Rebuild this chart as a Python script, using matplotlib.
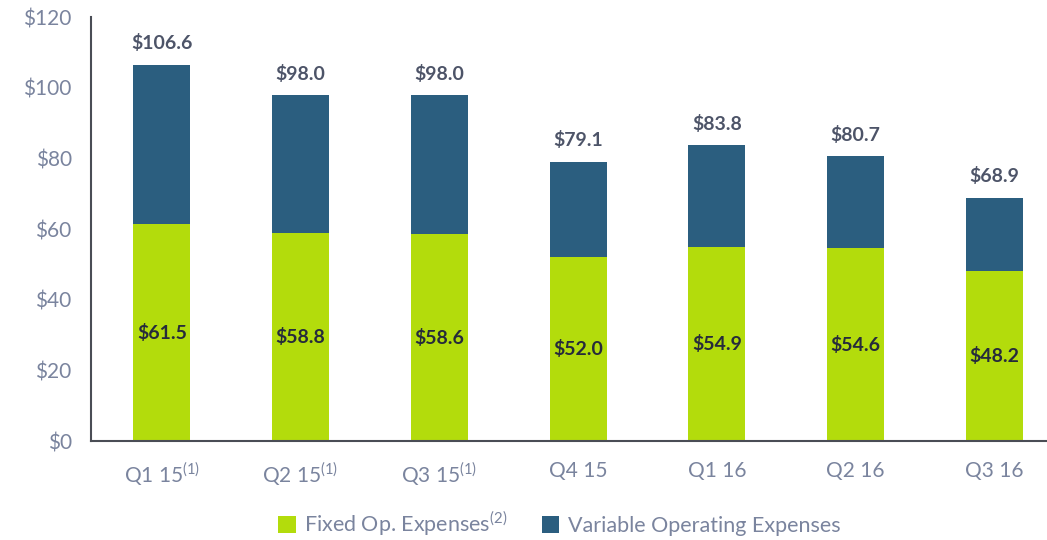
import matplotlib.pyplot as plt
import numpy as np

quarters = ["Q1 15", "Q2 15", "Q3 15", "Q4 15", "Q1 16", "Q2 16", "Q3 16"]
notes = ["(1)", "(1)", "(1)", "", "", "", ""]
fixed = [61.5, 58.8, 58.6, 52.0, 54.9, 54.6, 48.2]
totals = [106.6, 98.0, 98.0, 79.1, 83.8, 80.7, 68.9]
variable = [t - f for t, f in zip(totals, fixed)]

green = "#b3dc0c"
navy = "#2b5e7f"
tick_color = "#7a849e"
total_color = "#4d5468"
fixed_color = "#262b3b"

plt.rcParams["font.family"] = ["Lato", "DejaVu Sans"]
plt.rcParams["mathtext.fontset"] = "custom"
plt.rcParams["mathtext.rm"] = "Lato"

fig = plt.figure(figsize=(10.47, 5.4), dpi=100)
ax = fig.add_axes([0.087, 0.183, 0.913, 0.785])

x = np.arange(len(quarters))
w = 0.41
ax.bar(x, fixed, w, color=green, label=r"Fixed Op. Expenses$^{\mathrm{(2)}}$", zorder=2)
ax.bar(x, variable, w, bottom=fixed, color=navy, label="Variable Operating Expenses", zorder=2)

for xi, f, t in zip(x, fixed, totals):
    ax.text(xi, t + 3.5, f"${t:.1f}", ha="center", va="bottom", fontsize=14,
            fontweight="bold", color=total_color)
    ax.text(xi, f / 2, f"${f:.1f}", ha="center", va="center", fontsize=14,
            fontweight="bold", color=fixed_color)

ax.set_xlim(-0.51, 6.38)
ax.set_ylim(0, 120)
ax.set_yticks(range(0, 121, 20))
ax.set_yticklabels([f"${v}" for v in range(0, 121, 20)])
ax.set_xticks(x)
ax.set_xticklabels([q + (rf"$^{{\mathrm{{{n}}}}}$" if n else "")
                    for q, n in zip(quarters, notes)])
ax.tick_params(axis="both", length=0, labelsize=15, colors=tick_color)
ax.tick_params(axis="x", pad=14)
ax.tick_params(axis="y", pad=14)

for s in ["top", "right"]:
    ax.spines[s].set_visible(False)
for s in ["left", "bottom"]:
    ax.spines[s].set_color("#4a4d55")
    ax.spines[s].set_linewidth(1.5)

leg = ax.legend(loc="upper center", bbox_to_anchor=(0.49, -0.115), ncol=2, frameon=False,
                fontsize=15.5, handlelength=0.8, handleheight=0.8, handletextpad=0.4,
                columnspacing=1.6)
for t in leg.get_texts():
    t.set_color(tick_color)

fig.savefig("out.png", dpi=100)
